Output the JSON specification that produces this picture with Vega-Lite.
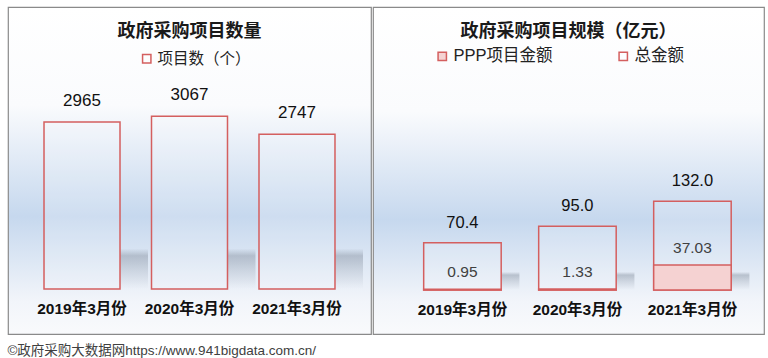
{
  "$schema": "https://vega.github.io/schema/vega-lite/v6.json",
  "padding": {"left": 7, "top": 6, "right": 0, "bottom": 0},
  "background": "white",
  "spacing": 0,
  "title": {"text": "©政府采购大数据网https://www.941bigdata.com.cn/", "orient": "bottom", "anchor": "start", "frame": "bounds", "fontSize": 13.5, "fontWeight": "normal", "color": "#404040", "offset": 9, "baseline": "top"},
  "config": {
    "font": "Liberation Sans, Noto Sans CJK SC",
    "title": {"fontSize": 18, "fontWeight": "bold", "color": "#1a1a1a", "anchor": "middle"},
    "axis": {"grid": false}
  },
  "datasets": {
    "count": [
      {"month": "2019年3月份", "series": "项目数（个）", "value": 2965},
      {"month": "2020年3月份", "series": "项目数（个）", "value": 3067},
      {"month": "2021年3月份", "series": "项目数（个）", "value": 2747}
    ],
    "amount": [
      {"month": "2019年3月份", "series": "总金额", "value": 70.4},
      {"month": "2020年3月份", "series": "总金额", "value": 95.0},
      {"month": "2021年3月份", "series": "总金额", "value": 132.0},
      {"month": "2019年3月份", "series": "PPP项目金额", "value": 0.95},
      {"month": "2020年3月份", "series": "PPP项目金额", "value": 1.33},
      {"month": "2021年3月份", "series": "PPP项目金额", "value": 37.03}
    ]
  },
  "hconcat": [
    {
      "width": 363,
      "height": 327,
      "view": {"stroke": "#8a8a8a", "strokeWidth": 1.2, "fill": {"gradient": "linear", "x1": 0, "y1": 0, "x2": 0, "y2": 1, "stops": [{"offset": 0, "color": "#ffffff"}, {"offset": 0.3, "color": "#fafbfd"}, {"offset": 0.64, "color": "#c6d8ee"}, {"offset": 0.9, "color": "#f2f5fa"}, {"offset": 1, "color": "#f9fafc"}]}},
      "title": {"text": "政府采购项目数量", "offset": -34},
      "data": {"name": "count"},
      "encoding": {
        "x": {"field": "month", "type": "nominal", "sort": null, "title": null,
          "scale": {"paddingInner": 0.293, "paddingOuter": 0.335},
          "axis": {"orient": "bottom", "offset": -26, "domain": false, "ticks": false, "labelPadding": 0, "labelBaseline": "middle", "labelAngle": 0, "labelFontSize": 15.5, "labelFontWeight": "bold", "labelColor": "#111111"}}
      },
      "layer": [
        {
          "mark": {"type": "bar", "width": 28, "xOffset": 52, "fill": {"gradient": "linear", "x1": 0, "y1": 0, "x2": 0, "y2": 1, "stops": [{"offset": 0, "color": "rgba(140,150,165,0)"}, {"offset": 0.18, "color": "rgba(140,150,165,0.5)"}, {"offset": 0.55, "color": "rgba(140,150,165,0.25)"}, {"offset": 1, "color": "rgba(140,150,165,0)"}]}},
          "encoding": {
            "y": {"datum": 720, "type": "quantitative", "scale": {"domain": [-799, 5009], "nice": false, "zero": false}, "axis": null},
            "y2": {"datum": 0}
          }
        },
        {
          "mark": {"type": "bar", "fill": "rgba(255,255,255,0.15)", "strokeWidth": 1.5},
          "encoding": {
            "y": {"field": "value", "type": "quantitative", "stack": null, "axis": null},
            "y2": {"datum": 0},
            "stroke": {"field": "series", "type": "nominal", "scale": {"range": ["#d45f5f"]},
              "legend": {"title": null, "orient": "none", "legendX": 131, "legendY": 44, "symbolType": "square", "symbolSize": 70, "symbolFillColor": "#ffffff", "symbolStrokeWidth": 1.5, "labelFontSize": 15.5, "labelColor": "#222222", "labelOffset": 3}}
          }
        },
        {
          "mark": {"type": "text", "dy": -21, "fontSize": 17, "color": "#111111"},
          "encoding": {
            "y": {"field": "value", "type": "quantitative"},
            "text": {"field": "value", "type": "quantitative", "format": "d"}
          }
        }
      ]
    },
    {
      "width": 391,
      "height": 327,
      "view": {"stroke": "#8a8a8a", "strokeWidth": 1.2, "fill": {"gradient": "linear", "x1": 0, "y1": 0, "x2": 0, "y2": 1, "stops": [{"offset": 0, "color": "#ffffff"}, {"offset": 0.32, "color": "#fafbfd"}, {"offset": 0.65, "color": "#c6d8ee"}, {"offset": 0.9, "color": "#f2f5fa"}, {"offset": 1, "color": "#f9fafc"}]}},
      "title": {"text": "政府采购项目规模（亿元）", "offset": -34},
      "data": {"name": "amount"},
      "encoding": {
        "x": {"field": "month", "type": "nominal", "sort": null, "title": null,
          "scale": {"paddingInner": 0.326, "paddingOuter": 0.363, "align": 0.607},
          "axis": {"orient": "bottom", "offset": -25, "domain": false, "ticks": false, "labelPadding": 0, "labelBaseline": "middle", "labelAngle": 0, "labelFontSize": 15.5, "labelFontWeight": "bold", "labelColor": "#111111"}}
      },
      "layer": [
        {
          "transform": [{"filter": "datum.series === '总金额'"}],
          "mark": {"type": "bar", "width": 18, "xOffset": 48, "fill": {"gradient": "linear", "x1": 0, "y1": 0, "x2": 0, "y2": 1, "stops": [{"offset": 0, "color": "rgba(140,150,165,0)"}, {"offset": 0.18, "color": "rgba(140,150,165,0.5)"}, {"offset": 0.55, "color": "rgba(140,150,165,0.25)"}, {"offset": 1, "color": "rgba(140,150,165,0)"}]}},
          "encoding": {
            "y": {"datum": 27, "type": "quantitative", "scale": {"domain": [-65.5, 421.1], "nice": false, "zero": false}, "axis": null},
            "y2": {"datum": 0}
          }
        },
        {
          "transform": [{"filter": "datum.series === '总金额'"}],
          "mark": {"type": "bar", "stroke": "#d45f5f", "strokeWidth": 1.5},
          "encoding": {
            "y": {"field": "value", "type": "quantitative", "stack": null, "axis": null},
            "y2": {"datum": 0},
            "fill": {"field": "series", "type": "nominal",
              "scale": {"domain": ["PPP项目金额", "总金额"], "range": ["#f5d2d2", "rgba(255,255,255,0.15)"]},
              "legend": {"title": null, "orient": "none", "legendX": 426, "legendY": 41, "direction": "horizontal", "columnPadding": 62, "symbolType": "square", "symbolSize": 70, "symbolStrokeColor": "#d45f5f", "symbolStrokeWidth": 1.5, "labelFontSize": 16.5, "labelColor": "#222222", "labelOffset": 3}}
          }
        },
        {
          "transform": [{"filter": "datum.series === 'PPP项目金额'"}],
          "mark": {"type": "bar", "stroke": "#d45f5f", "strokeWidth": 1.5},
          "encoding": {
            "y": {"field": "value", "type": "quantitative", "stack": null, "axis": null},
            "y2": {"datum": 0},
            "fill": {"field": "series", "type": "nominal"}
          }
        },
        {
          "transform": [{"filter": "datum.series === '总金额'"}],
          "mark": {"type": "text", "dy": -20, "fontSize": 16.5, "color": "#111111"},
          "encoding": {
            "y": {"field": "value", "type": "quantitative"},
            "text": {"field": "value", "type": "quantitative", "format": ".1f"}
          }
        },
        {
          "transform": [{"filter": "datum.series === 'PPP项目金额'"}],
          "mark": {"type": "text", "dy": -17, "fontSize": 15.5, "color": "#404040"},
          "encoding": {
            "y": {"field": "value", "type": "quantitative"},
            "text": {"field": "value", "type": "quantitative", "format": ".2f"}
          }
        }
      ]
    }
  ]
}
